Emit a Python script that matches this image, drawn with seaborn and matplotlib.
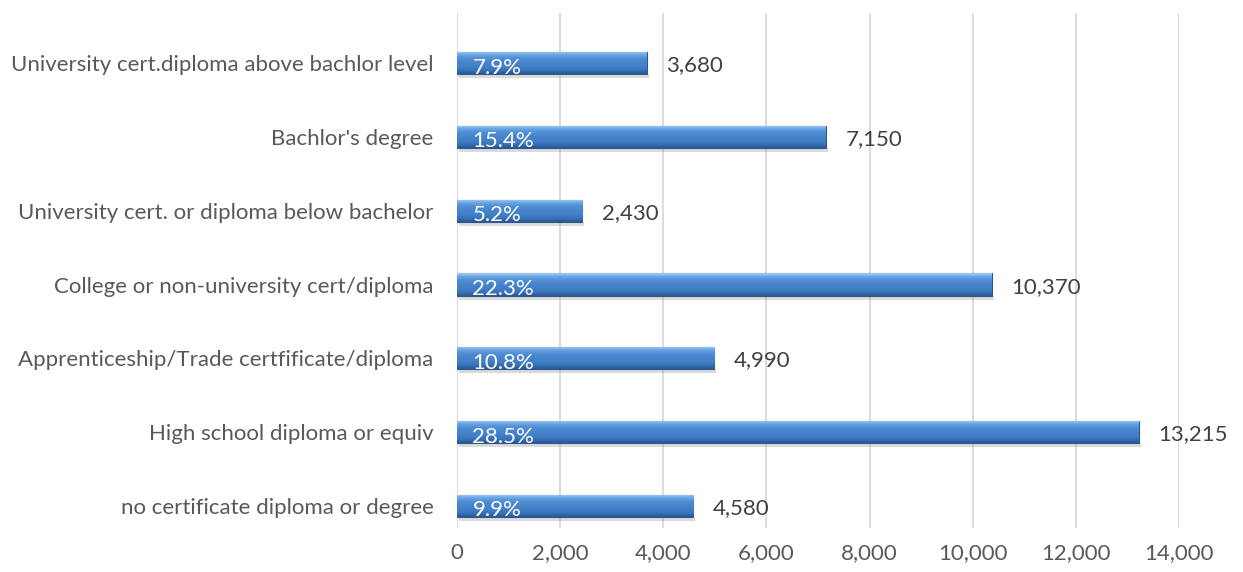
import numpy as np
import pandas as pd
import matplotlib
matplotlib.use("Agg")
import matplotlib.pyplot as plt
import seaborn as sns
from matplotlib.colors import LinearSegmentedColormap

# Chart data
categories = [
    "University cert.diploma above bachlor level",
    "Bachlor's degree",
    "University cert. or diploma below bachelor",
    "College or non-university cert/diploma",
    "Apprenticeship/Trade certfificate/diploma",
    "High school diploma or equiv",
    "no certificate diploma or degree",
]
counts = [3680, 7150, 2430, 10370, 4990, 13215, 4580]
shares = ["7.9%", "15.4%", "5.2%", "22.3%", "10.8%", "28.5%", "9.9%"]
xticks = [0, 2000, 4000, 6000, 8000, 10000, 12000, 14000]

df = pd.DataFrame({"category": categories, "count": counts, "share": shares})

sns.set_theme(style="white")
plt.rcParams["font.family"] = ["Lato", "DejaVu Sans"]

fig = plt.figure(figsize=(12.43, 5.72), dpi=100)
ax = fig.add_axes([457 / 1243, 1 - 528 / 572, (1179 - 457) / 1243, (528 - 13) / 572])

sns.barplot(data=df, x="count", y="category", orient="h", color="#4683CC",
            width=0.30, edgecolor="#2C5891", linewidth=0.8, ax=ax, zorder=3)

# bevel-like gradient on each bar
grad = LinearSegmentedColormap.from_list(
    "bev", ["#A4CDF4", "#66A2E3", "#4E8CD4", "#4784CD", "#4180C8", "#3A74BB", "#2A568C"])
g = np.linspace(0, 1, 64).reshape(-1, 1)
for p in ax.patches:
    x0, y0 = p.get_x(), p.get_y()
    w, h = p.get_width(), p.get_height()
    # soft shadow below bar
    ax.add_patch(plt.Rectangle((x0 + 40, y0 + h), w, h * 0.18, color="#9A9A9A",
                               alpha=0.35, lw=0, zorder=2))
    im = ax.imshow(g, cmap=grad, aspect="auto", extent=(x0, x0 + w, y0 + h, y0),
                   zorder=3.5, interpolation="bicubic")
    im.set_clip_path(p)

ax.set_xlim(0, 14000)
ax.set_ylim(6.30, -0.68)
ax.set_xticks(xticks)
ax.set_xticklabels([f"{v:,}" for v in xticks])
ax.xaxis.grid(True, color="#D9D9D9", linewidth=1.3, zorder=0)
ax.set_axisbelow(True)
for s in ax.spines.values():
    s.set_visible(False)
ax.set_xlabel("")
ax.set_ylabel("")
ax.tick_params(axis="both", length=0, labelsize=16, colors="#595959")
ax.tick_params(axis="x", pad=11)
ax.tick_params(axis="y", pad=17)

for i, row in df.iterrows():
    ax.text(300, i + 0.06, row["share"], color="white", fontsize=16,
            ha="left", va="center", zorder=5)
    ax.text(row["count"] + 380, i + 0.03, f"{row['count']:,}", color="#404040",
            fontsize=16, ha="left", va="center", zorder=5)

fig.savefig("out.png", dpi=100)
